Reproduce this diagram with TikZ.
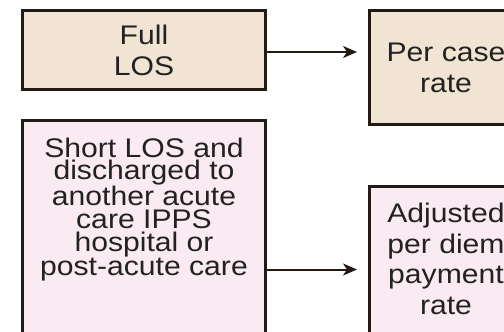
\documentclass[tikz,border=0pt]{standalone}
\usepackage{fontspec}
\setmainfont[FakeStretch=1.12]{Liberation Sans}
\usetikzlibrary{arrows.meta}

\definecolor{losbeige}{HTML}{F2E4D2}
\definecolor{lospink}{HTML}{FAEBF2}
\definecolor{losline}{HTML}{231A15}
\definecolor{lostext}{HTML}{222222}

\tikzset{
  losbox/.style={draw=losline, line width=3bp, align=center, text=lostext, inner sep=0pt},
  loslabel/.style={align=center, text=lostext, inner sep=0pt, anchor=north},
  losarrow/.style={-{Stealth[length=14bp,width=12bp,inset=4bp]}, line width=2bp, draw=losline, shorten >=11bp},
}

\begin{document}
\begin{tikzpicture}[x=1bp,y=-1bp]
    \useasboundingbox (0,0) rectangle (504,331);
    \clip (0,0) rectangle (504,331);

    % left column
    \node[losbox, fill=losbeige, minimum width=243bp, minimum height=79bp,
          font=\fontsize{27}{31}\selectfont] (full) at (144,50) {Full\\LOS};
    \node[losbox, fill=lospink, anchor=north, minimum width=243bp, minimum height=240bp] (short) at (144,118.5) {};
    \node[loslabel, font=\fontsize{27}{22.7}\selectfont] (shorttext) at ([yshift=-19bp]short.north)
          {Short LOS and\\discharged to\\another acute\\care IPPS\\hospital or\\post-acute care};

    % right column
    \node[losbox, fill=losbeige, minimum width=153bp, minimum height=114bp,
          font=\fontsize{27}{31}\selectfont] (percase) at (446,67.5) {Per case\\rate};
    \node[losbox, fill=lospink, anchor=north, minimum width=153bp, minimum height=167bp] (perdiem) at (446,184.5) {};
    \node[loslabel, font=\fontsize{27}{31}\selectfont] (perdiemtext) at ([yshift=-18bp]perdiem.north)
          {Adjusted\\per diem\\payment\\rate};

    \draw[losarrow] ([yshift=-2bp]full.east) -- ([yshift=-2bp]percase.west |- full.east);
    \draw[losarrow] (short.east |- perdiem.west) -- (perdiem.west);
\end{tikzpicture}
\end{document}
